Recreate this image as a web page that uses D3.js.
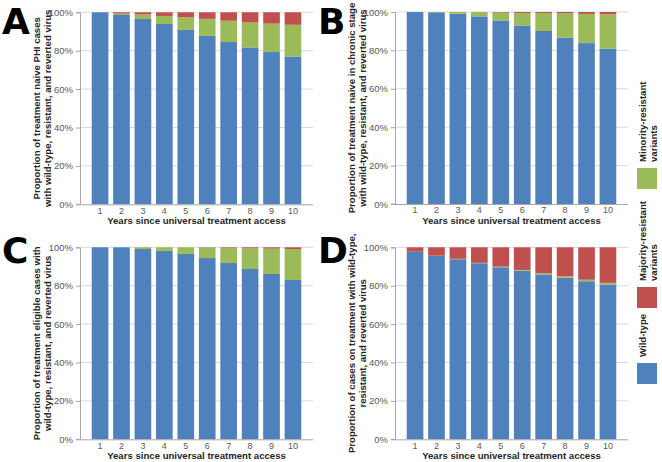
<!DOCTYPE html>
<html><head><meta charset="utf-8">
<script src="https://cdn.jsdelivr.net/npm/d3@7"></script>
<style>
html,body{margin:0;padding:0;background:#fff;}
svg{display:block;font-family:"Liberation Sans",Arial,sans-serif;}
</style></head>
<body><svg id="chart" width="662" height="462"></svg>
<script>
const years = [1,2,3,4,5,6,7,8,9,10];
const yTicks = [0,20,40,60,80,100];
const seriesNames = ["Wild-type","Minority-resistant variants","Majority-resistant variants"];
const colors = ["#4f81bd","#9bbb59","#c0504d"];

const wildA  = [100, 98.6, 96.5, 93.9, 90.8, 87.7, 84.5, 81.7, 79.3, 77.0];
const minorA = [0, 0.7, 2.4, 4.2, 6.6, 8.9, 11.1, 13.0, 14.8, 16.5];
const majorA = [0, 0.7, 1.1, 1.9, 2.6, 3.4, 4.4, 5.3, 5.9, 6.5];

const wildB  = [100, 99.8, 99.1, 97.7, 95.6, 93.0, 90.1, 86.7, 83.8, 80.8];
const minorB = [0, 0.2, 0.9, 2.2, 4.1, 6.5, 9.4, 12.6, 15.2, 18.0];
const majorB = [0, 0, 0, 0.1, 0.3, 0.5, 0.5, 0.7, 1.0, 1.2];

const wildC  = [100, 100, 99.1, 98.1, 96.5, 94.4, 91.8, 88.7, 86.1, 83.0];
const minorC = [0, 0, 0.9, 1.9, 3.5, 5.4, 7.9, 10.8, 13.2, 16.1];
const majorC = [0, 0, 0, 0, 0, 0.2, 0.3, 0.5, 0.7, 0.9];

const wildD  = [97.7, 95.5, 93.8, 91.7, 89.6, 87.8, 85.9, 84.2, 82.3, 80.6];
const minorD = [0, 0.1, 0.2, 0.2, 0.3, 0.4, 0.6, 0.6, 0.8, 0.9];
const majorD = [2.3, 4.4, 6.0, 8.1, 10.1, 11.8, 13.5, 15.2, 16.9, 18.5];

const xTitle = "Years since universal treatment access";
const panels = [
  {letter:"A", x0:80,  y0:12.3,  lx:2,   ly:33.5, wild:wildA, minor:minorA, major:majorA,
   ytitle:["Proportion of treatment naive PHI cases","with wild-type, resistant, and reverted virus"]},
  {letter:"B", x0:395, y0:12,    lx:318, ly:33.5, wild:wildB, minor:minorB, major:majorB,
   ytitle:["Proportion of treatment naive in chronic stage","with wild-type, resistant, and reverted virus"]},
  {letter:"C", x0:80,  y0:247.3, lx:2,   ly:263, wild:wildC, minor:minorC, major:majorC,
   ytitle:["Proportion of treatment eligible cases with","wild-type, resistant, and reverted virus"]},
  {letter:"D", x0:395, y0:247.3, lx:318, ly:263, wild:wildD, minor:minorD, major:majorD,
   ytitle:["Proportion of cases on treatment with wild-type,","resistant, and reverted virus"]}
];

const W = 233, H = 192;
const svg = d3.select("#chart");

panels.forEach(p => {
  const x = d3.scaleBand().domain(years).range([p.x0, p.x0 + W]).paddingInner(0.223).paddingOuter(0.547);
  const y = d3.scaleLinear().domain([0,100]).range([p.y0 + H, p.y0]);
  const g = svg.append("g");

  // gridlines
  g.selectAll("line.grid").data(yTicks.filter(t => t > 0)).join("line")
    .attr("x1", p.x0).attr("x2", p.x0 + W)
    .attr("y1", d => y(d)).attr("y2", d => y(d))
    .attr("stroke", "#d9d9d9").attr("stroke-width", 1);

  // stacked bars
  const rows = years.map((yr, i) => ({year: yr, w: p.wild[i], mi: p.minor[i], ma: p.major[i]}));
  const stack = d3.stack().keys(["w","mi","ma"])(rows);
  stack.forEach((layer, k) => {
    g.append("g").attr("fill", colors[k]).selectAll("rect").data(layer).join("rect")
      .attr("x", d => x(d.data.year))
      .attr("width", x.bandwidth())
      .attr("y", d => y(d[1]))
      .attr("height", d => Math.max(0, y(d[0]) - y(d[1])));
  });

  // y axis
  const yAxis = d3.axisLeft(y).tickValues(yTicks).tickFormat(d => d + "%").tickSize(4).tickPadding(3);
  const ya = g.append("g").attr("transform", `translate(${p.x0},0)`).call(yAxis);
  ya.select(".domain").attr("stroke", "#a6a6a6").attr("d", `M-4,${p.y0+0.5}H0.5V${p.y0+H}H-4`);
  ya.selectAll(".tick line").attr("stroke", "#a6a6a6");
  ya.selectAll(".tick text").attr("fill", "#595959").style("font-size", "9.5px").style("font-family", "Liberation Sans, Arial, sans-serif");

  // x axis
  const xAxis = d3.axisBottom(x).tickSize(0).tickPadding(3);
  const xa = g.append("g").attr("transform", `translate(0,${p.y0 + H})`).call(xAxis);
  xa.select(".domain").attr("stroke", "#a6a6a6").attr("d", `M${p.x0},0.5H${p.x0 + W}`);
  xa.selectAll(".tick text").attr("fill", "#595959").style("font-size", "9px").style("font-family", "Liberation Sans, Arial, sans-serif");

  // x title
  g.append("text").attr("x", p.x0 + W/2).attr("y", p.y0 + H + 20)
    .attr("text-anchor", "middle").attr("fill", "#262626")
    .style("font-size", "9.6px").style("font-weight", "bold").text(xTitle);

  // y title (two lines)
  const cy = p.y0 + H/2;
  p.ytitle.forEach((line, i) => {
    g.append("text")
      .attr("transform", `translate(${p.x0 - 40 + i*11.2},${cy}) rotate(-90)`)
      .attr("text-anchor", "middle").attr("fill", "#262626")
      .style("font-size", "9.6px").style("font-weight", "bold").text(line);
  });

  // panel letter
  g.append("text").attr("x", p.lx).attr("y", p.ly).attr("fill", "#000")
    .style("font-size", "36px").style("font-weight", "bold")
    .style("font-family", "DejaVu Sans, Liberation Sans, sans-serif").text(p.letter);
});

// legend
const legendItems = [
  {name:["Wild-type"], color:colors[0], top:363},
  {name:["Majority-resistant","variants"], color:colors[2], top:287},
  {name:["Minority-resistant","variants"], color:colors[1], top:168}
];
const lg = svg.append("g");
legendItems.forEach(it => {
  lg.append("rect").attr("x", 637).attr("y", it.top).attr("width", 20).attr("height", 21).attr("fill", it.color);
  it.name.forEach((line, i) => {
    lg.append("text")
      .attr("transform", `translate(${646 + i*11},${it.top - 6}) rotate(-90)`)
      .attr("text-anchor", "start").attr("fill", "#262626")
      .style("font-size", "9.6px").style("font-weight", "bold").text(line);
  });
});
</script>
</body></html>
